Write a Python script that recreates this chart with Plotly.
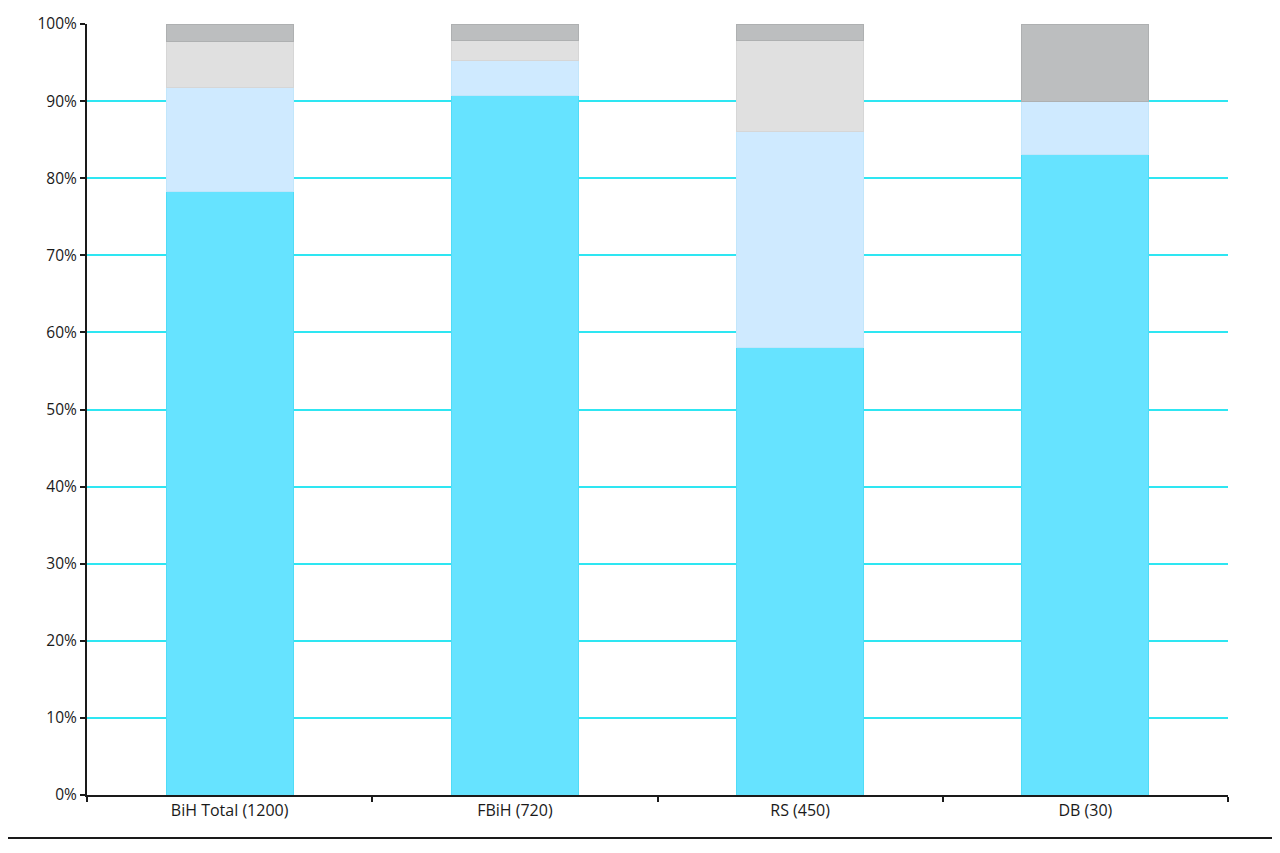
import plotly.graph_objects as go

categories = ["BiH Total (1200)", "FBiH (720)", "RS (450)", "DB (30)"]
series_names = ["Kategorija 1", "Kategorija 2", "Kategorija 3", "Kategorija 4"]
s1 = [78.3, 90.7, 58.0, 83.1]
s2 = [13.4, 4.6, 28.0, 6.9]
s3 = [6.0, 2.5, 11.8, 0.0]
s4 = [2.3, 2.2, 2.2, 10.0]
series_values = [s1, s2, s3, s4]
fill_colors = ["#66e3ff", "#cfeaff", "#e0e0e0", "#bcbebf"]
line_colors = ["#4fdcf7", "#c2e6fb", "#d6d6d6", "#aeb0b1"]
y_ticks = [0, 10, 20, 30, 40, 50, 60, 70, 80, 90, 100]
y_tick_labels = [f"{v}%" for v in y_ticks]

fig = go.Figure()
for name, vals, fc, lc in zip(series_names, series_values, fill_colors, line_colors):
    fig.add_trace(go.Bar(
        x=categories, y=vals, name=name,
        marker=dict(color=fc, line=dict(color=lc, width=1)),
        width=0.445,
    ))

fig.update_layout(
    barmode="stack",
    width=1264, height=837,
    margin=dict(l=79, r=44, t=16, b=50),
    paper_bgcolor="white", plot_bgcolor="white",
    showlegend=False,
    font=dict(family="Open Sans", size=16, color="#1a1a1a"),
)
fig.update_yaxes(
    range=[0, 100], tickvals=y_ticks, ticktext=y_tick_labels,
    showgrid=True, gridcolor="#2ee6f2", gridwidth=2,
    showline=True, linecolor="#1a1a1a", linewidth=2,
    ticks="outside", ticklen=5, tickcolor="#1a1a1a", tickwidth=2,
    zeroline=False, automargin=False, tickfont=dict(size=15.5, color="#1a1a1a"),
)
fig.update_xaxes(
    showline=True, linecolor="#1a1a1a", linewidth=2,
    ticks="outside", tickson="boundaries", ticklen=5, tickcolor="#1a1a1a", tickwidth=2,
    showgrid=False, automargin=False, tickfont=dict(size=16, color="#1a1a1a"),
)
fig.add_shape(type="line", xref="paper", yref="paper",
              x0=-87/1141, x1=(1280-87)/1141, y0=-43/771, y1=-43/771,
              line=dict(color="#1a1a1a", width=2))

fig.write_html("out.html")
